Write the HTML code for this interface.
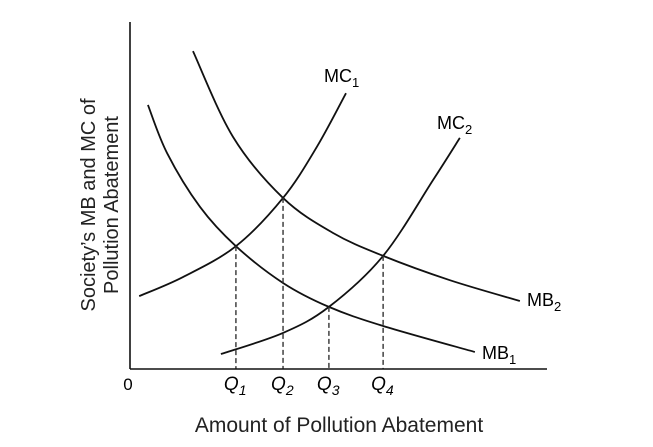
<!DOCTYPE html>
<html><head><meta charset="utf-8"><style>
body{margin:0;background:#fff}
svg{display:block;font-family:"Liberation Sans",sans-serif}
</style></head><body>
<svg id="chart" width="653" height="447" viewBox="0 0 653 447">
<g id="curves"></g>
<g id="guides"></g>
<line x1="130" y1="22" x2="130" y2="369" stroke="#111" stroke-width="1.6"/>
<line x1="130" y1="369" x2="547" y2="369" stroke="#111" stroke-width="1.6"/>
<text x="128" y="390" font-size="17" text-anchor="middle">0</text>
<g id="qlabels"></g>
<text x="339" y="432" font-size="21" text-anchor="middle" fill="#222">Amount of Pollution Abatement</text>
<g transform="translate(95,205) rotate(-90)" fill="#222">
<text x="0" y="0" font-size="20" text-anchor="middle">Society’s MB and MC of</text>
<text x="0" y="23" font-size="20" text-anchor="middle">Pollution Abatement</text>
</g>
<text x="324" y="82" font-size="18">MC<tspan font-size="13" dy="5">1</tspan></text>
<text x="437" y="129" font-size="18">MC<tspan font-size="13" dy="5">2</tspan></text>
<text x="527" y="306" font-size="18">MB<tspan font-size="13" dy="5">2</tspan></text>
<text x="482" y="359" font-size="18">MB<tspan font-size="13" dy="5">1</tspan></text>
</svg>
<script>
const mb1X=[4.3,8.9,16.8,25.4,36.7,47.7,60.7,82.7];
const mb1Y=[76.1,62.2,46.7,35.4,24.8,17.9,12.4,4.9];
const mb2X=[15.1,24.7,36.7,48.7,60.7,76.7,93.5];
const mb2Y=[91.6,66.9,49.3,39.2,32.6,25.6,19.6];
const mc1X=[2.2,12.7,25.4,36.7,44.8,51.8];
const mc1Y=[21.0,26.5,35.4,49.3,64.0,79.5];
const mc2X=[21.8,36.7,47.7,60.7,72.7,79.1];
const mc2Y=[4.3,10.4,17.9,32.6,54.5,66.6];
const qLabels=["1","2","3","4"];
const qX=[25.4,36.7,47.7,60.7];
const qY=[35.4,49.3,17.9,32.6];
const NS="http://www.w3.org/2000/svg";
const xS=v=>130+v*4.17, yS=v=>369-v*3.47;
function path(xs,ys){
  const p=xs.map((x,i)=>[xS(x),yS(ys[i])]);
  let d=`M${p[0][0]},${p[0][1]}`;
  for(let i=0;i<p.length-1;i++){
    const p0=p[i-1]||p[i],p1=p[i],p2=p[i+1],p3=p[i+2]||p2;
    d+=` C${p1[0]+(p2[0]-p0[0])/6},${p1[1]+(p2[1]-p0[1])/6} ${p2[0]-(p3[0]-p1[0])/6},${p2[1]-(p3[1]-p1[1])/6} ${p2[0]},${p2[1]}`;
  }
  return d;
}
const cg=document.getElementById('curves');
[[mb1X,mb1Y,'mb1-curve'],[mb2X,mb2Y,'mb2-curve'],[mc1X,mc1Y,'mc1-curve'],[mc2X,mc2Y,'mc2-curve']].forEach(([x,y,n])=>{
  const el=document.createElementNS(NS,'path');
  el.setAttribute('d',path(x,y));
  el.setAttribute('fill','none');el.setAttribute('stroke','#111');el.setAttribute('stroke-width','1.8');
  
  
  cg.appendChild(el);
});
const gg=document.getElementById('guides'), ql=document.getElementById('qlabels');
qX.forEach((q,i)=>{
  const l=document.createElementNS(NS,'line');
  l.setAttribute('x1',xS(q));l.setAttribute('x2',xS(q));
  l.setAttribute('y1',yS(qY[i]));l.setAttribute('y2',369);
  l.setAttribute('stroke','#333');l.setAttribute('stroke-width','1.4');l.setAttribute('stroke-dasharray','5,3');
  
  
  gg.appendChild(l);
  const t=document.createElementNS(NS,'text');
  t.setAttribute('x',xS(q)-12);t.setAttribute('y',390);
  t.setAttribute('font-size','19');t.setAttribute('font-style','italic');
  t.innerHTML='Q<tspan font-size="14" dy="5">'+qLabels[i]+'</tspan>';
  
  
  ql.appendChild(t);
});
</script>
</body></html>
